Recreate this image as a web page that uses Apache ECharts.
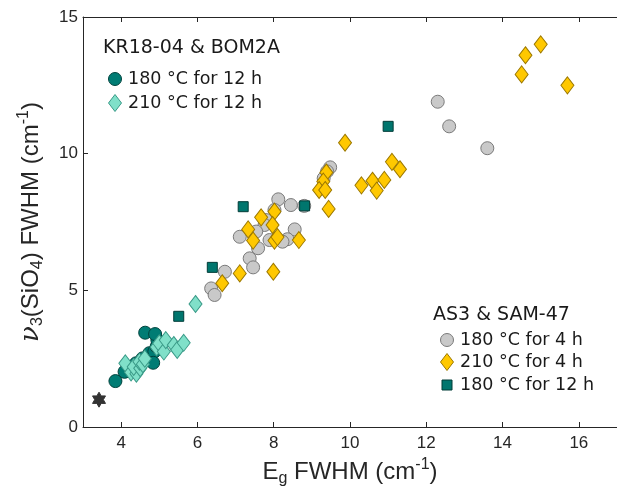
<!DOCTYPE html>
<html>
<head>
<meta charset="utf-8">
<script src="https://cdn.jsdelivr.net/npm/echarts@6/dist/echarts.min.js"></script>
<style>html,body{margin:0;padding:0;background:#fff}#c{width:617px;height:493px}</style>
</head>
<body>
<div id="c"></div>
<script>
// ---- data (Eg FWHM, v3(SiO4) FWHM), cm-1 ----
const xTicks = [4, 6, 8, 10, 12, 14, 16];
const yTicks = [0, 5, 10, 15];
const kr180_12h = [[3.85,1.68],[4.09,2.02],[4.26,2.15],[4.39,2.33],[4.56,2.51],[4.74,2.70],[4.87,2.76],[4.84,2.35],[4.93,2.94],[4.95,3.18],[4.63,3.45],[4.89,3.40]];
const kr210_12h = [[4.11,2.33],[4.26,2.00],[4.40,1.95],[4.33,2.20],[4.50,2.15],[4.48,2.39],[4.57,2.30],[4.62,2.50],[4.93,2.92],[5.00,3.06],[5.12,2.76],[5.17,3.18],[5.38,3.00],[5.47,2.82],[5.64,3.08],[5.95,4.50]];
const as180_4h = [[12.3,11.9],[12.6,11.0],[13.6,10.2],[9.48,9.50],[9.40,9.35],[9.31,9.10],[8.80,8.09],[8.12,8.33],[8.45,8.12],[8.02,7.94],[7.80,7.57],[7.76,7.39],[7.54,7.15],[7.11,6.96],[8.55,7.23],[8.36,6.87],[8.23,6.78],[7.89,6.84],[7.59,6.54],[7.37,6.17],[7.46,5.84],[6.72,5.68],[6.36,5.07],[6.45,4.83]];
const as210_4h = [[15.0,14.0],[14.6,13.6],[14.5,12.9],[15.7,12.5],[9.87,10.4],[11.1,9.70],[11.31,9.43],[10.3,8.84],[10.59,9.01],[10.9,9.04],[10.7,8.65],[9.38,9.31],[9.30,8.98],[9.19,8.67],[9.35,8.67],[9.44,7.98],[7.67,7.67],[8.02,7.88],[7.33,7.23],[7.97,7.39],[7.46,6.82],[8.02,6.82],[8.10,6.95],[8.66,6.84],[7.11,5.62],[7.99,5.68],[6.65,5.26]];
const as180_12h = [[11.0,11.0],[7.20,8.06],[8.81,8.09],[6.39,5.84],[5.51,4.05]];
const reference = [[3.42,1.0]];
const groupTitles = ['KR18-04 & BOM2A', 'AS3 & SAM-47'];
const labels = ['180 °C for 12 h', '210 °C for 12 h', '180 °C for 4 h', '210 °C for 4 h', '180 °C for 12 h'];

const C = {
  teal: '#007C74', tealEdge: '#00433D',
  mint: '#80E0C9', mintEdge: '#3A9A88',
  gray: '#C9C9C9', grayEdge: '#7A7A7A',
  gold: '#FFC800', goldEdge: '#9C7800',
  sq: '#00766E', sqEdge: '#003C37',
  star: '#333333'
};
const STAR = 'path://M100 0 L128.9 50 L186.6 50 L157.7 100 L186.6 150 L128.9 150 L100 200 L71.1 150 L13.4 150 L42.3 100 L13.4 50 L71.1 50 Z';
const FONT = 'Liberation Sans';
const LFONT = 'DejaVu Sans';
const axisCol = '#262626';

const chart = echarts.init(document.getElementById('c'), null, {renderer: 'canvas'});

const richName = {
  n: {fontSize: 24, fontFamily: FONT, color: axisCol, lineHeight: 30},
  nu: {fontSize: 26, fontFamily: 'DejaVu Serif', fontStyle: 'italic', color: axisCol, lineHeight: 30},
  sub: {fontSize: 16, fontFamily: FONT, color: axisCol, lineHeight: 16, verticalAlign: 'bottom'},
  sup: {fontSize: 16, fontFamily: FONT, color: axisCol, lineHeight: 16, verticalAlign: 'top'}
};

function sc(name, data, symbol, size, fill, edge, z) {
  return {
    type: 'scatter', name, data, symbol, symbolSize: size, z,
    itemStyle: {color: fill, borderColor: edge, borderWidth: 1, opacity: 1},
    emphasis: {disabled: true}, silent: true
  };
}

function legendGroup(x0, yTitle, title, items) {
  const ch = [{type: 'text', x: x0, y: yTitle, style: {text: title, font: '19px "' + LFONT + '"', fill: '#1a1a1a', verticalAlign: 'middle'}}];
  items.forEach(it => {
    const cx = x0 + it.dx, cy = it.y;
    if (it.shape === 'circle') ch.push({type: 'circle', shape: {cx, cy, r: 6.5}, style: {fill: it.fill, stroke: it.edge, lineWidth: 1}});
    if (it.shape === 'diamond') ch.push({type: 'polygon', shape: {points: [[cx, cy - 8.5], [cx + 6.5, cy], [cx, cy + 8.5], [cx - 6.5, cy]]}, style: {fill: it.fill, stroke: it.edge, lineWidth: 1}});
    if (it.shape === 'rect') ch.push({type: 'rect', shape: {x: cx - 5, y: cy - 5, width: 10, height: 10}, style: {fill: it.fill, stroke: it.edge, lineWidth: 1}});
    ch.push({type: 'text', x: x0 + it.dx + 13, y: cy, style: {text: it.text, font: '17.5px "' + LFONT + '"', fill: '#1a1a1a', verticalAlign: 'middle'}});
  });
  return ch;
}

const option = {
  animation: false,
  backgroundColor: '#fff',
  grid: {left: 83, top: 17, width: 540.4, height: 410, containLabel: false},
  xAxis: [{
    type: 'value', min: 3, max: 17, position: 'bottom',
    axisLine: {show: true, onZero: false, lineStyle: {color: axisCol, width: 1}},
    axisTick: {show: true, inside: true, length: 5, customValues: xTicks, lineStyle: {color: axisCol}},
    axisLabel: {show: true, customValues: xTicks, fontSize: 17, fontFamily: FONT, color: axisCol, margin: 8},
    splitLine: {show: false},
    name: '{n|E}{sub|g}{n| FWHM (cm}{sup|-1}{n|)}', nameLocation: 'middle', nameGap: 27,
    nameTextStyle: {rich: richName}
  }, {
    type: 'value', min: 3, max: 17, position: 'top',
    axisLine: {show: true, onZero: false, lineStyle: {color: axisCol, width: 1}},
    axisTick: {show: true, inside: true, length: 5, customValues: xTicks, lineStyle: {color: axisCol}},
    axisLabel: {show: false}, splitLine: {show: false}
  }],
  yAxis: [{
    type: 'value', min: 0, max: 15, interval: 5,
    axisLine: {show: true, onZero: false, lineStyle: {color: axisCol, width: 1}},
    axisTick: {show: true, inside: true, length: 5, lineStyle: {color: axisCol}},
    axisLabel: {fontSize: 17, fontFamily: FONT, color: axisCol, margin: 5, customValues: yTicks},
    splitLine: {show: false},
    name: '{nu|ν}{sub|3}{n|(SiO}{sub|4}{n|) FWHM (cm}{sup|-1}{n|)}', nameLocation: 'middle', nameGap: 37, nameRotate: 90,
    nameTextStyle: {rich: richName}
  }],
  series: [
    sc(labels[0], kr180_12h, 'circle', 13, C.teal, C.tealEdge, 2),
    sc(labels[1], kr210_12h, 'diamond', [13, 17], C.mint, C.mintEdge, 3),
    sc(labels[2], as180_4h, 'circle', 13, C.gray, C.grayEdge, 2),
    sc(labels[3], as210_4h, 'diamond', [13, 17], C.gold, C.goldEdge, 3),
    sc(labels[4], as180_12h, 'rect', 10, C.sq, C.sqEdge, 4),
    Object.assign(sc('reference', reference, STAR, 15, C.star, C.star, 5), {symbolKeepAspect: true})
  ],
  graphic: [
    {type: 'group', children: legendGroup(103, 48, groupTitles[0], [
      {shape: 'circle', dx: 12, y: 79, fill: C.teal, edge: C.tealEdge, text: labels[0]},
      {shape: 'diamond', dx: 12, y: 103, fill: C.mint, edge: C.mintEdge, text: labels[1]}
    ])},
    {type: 'group', children: legendGroup(433, 315, groupTitles[1], [
      {shape: 'circle', dx: 14, y: 340, fill: C.gray, edge: C.grayEdge, text: labels[2]},
      {shape: 'diamond', dx: 14, y: 362, fill: C.gold, edge: C.goldEdge, text: labels[3]},
      {shape: 'rect', dx: 14, y: 385, fill: C.sq, edge: C.sqEdge, text: labels[4]}
    ])}
  ]
};
chart.setOption(option);
</script>
</body>
</html>
